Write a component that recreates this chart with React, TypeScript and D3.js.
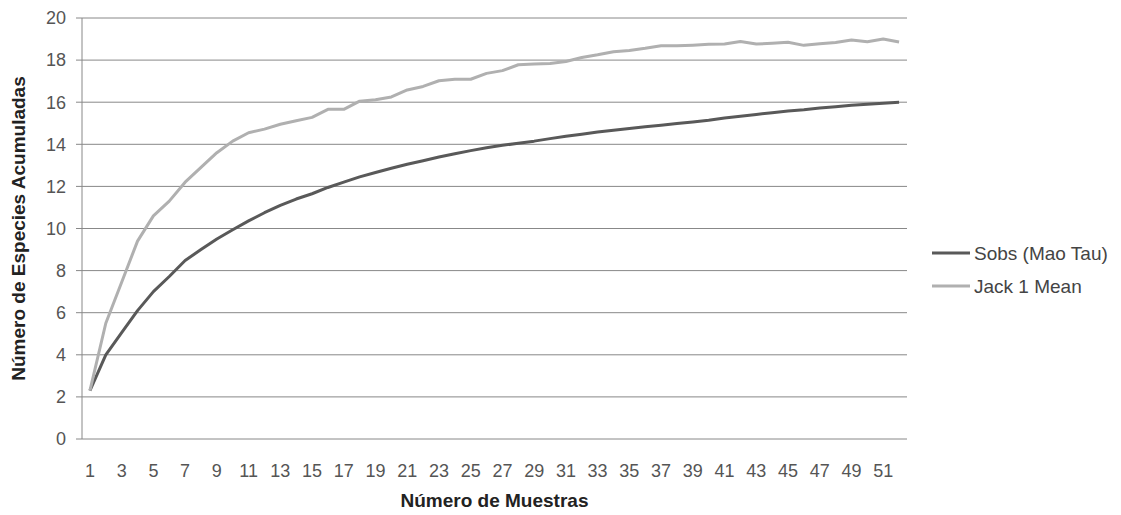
import React, { useEffect, useRef } from 'react';
import * as d3 from 'd3';

// Sample numbers 1..52
const samples = [
  1, 2, 3, 4, 5, 6, 7, 8, 9, 10, 11, 12, 13, 14, 15, 16, 17, 18, 19, 20, 21, 22, 23, 24, 25, 26,
  27, 28, 29, 30, 31, 32, 33, 34, 35, 36, 37, 38, 39, 40, 41, 42, 43, 44, 45, 46, 47, 48, 49, 50, 51, 52,
];

const sobs = [
  2.3, 4.0, 5.05, 6.1, 7.0, 7.72, 8.48, 9.0, 9.5, 9.94, 10.36, 10.75, 11.1, 11.4, 11.65, 11.95, 12.2,
  12.45, 12.66, 12.86, 13.05, 13.22, 13.4, 13.55, 13.7, 13.84, 13.95, 14.05, 14.15, 14.27, 14.38, 14.48,
  14.58, 14.67, 14.75, 14.83, 14.91, 14.99, 15.06, 15.14, 15.25, 15.33, 15.42, 15.5, 15.58, 15.64,
  15.72, 15.78, 15.85, 15.9, 15.95, 16.0,
];

const jack1 = [
  2.3, 5.5, 7.45, 9.4, 10.6, 11.3, 12.2, 12.9, 13.6, 14.15, 14.55, 14.72, 14.95, 15.12, 15.28, 15.66,
  15.66, 16.05, 16.12, 16.25, 16.58, 16.75, 17.02, 17.09, 17.09, 17.37, 17.5, 17.78, 17.82, 17.84,
  17.93, 18.12, 18.25, 18.4, 18.46, 18.56, 18.68, 18.68, 18.71, 18.75, 18.77, 18.88, 18.76, 18.8,
  18.85, 18.7, 18.78, 18.84, 18.95, 18.87, 19.0, 18.86,
];

const yTicks = [0, 2, 4, 6, 8, 10, 12, 14, 16, 18, 20];
const xTickLabels = samples.filter(d => d % 2 === 1);

const seriesNames = ['Sobs (Mao Tau)', 'Jack 1 Mean'];
const seriesColors = ['#595959', '#b0b0b0'];

export default function App() {
  const svgRef = useRef<SVGSVGElement>(null);
  const width = 1121;
  const height = 515;

  useEffect(() => {
    document.body.style.margin = '0';
    if (!svgRef.current) return;

    const plot = { left: 82, right: 907, top: 18, bottom: 439 };
    const font = "'Liberation Sans', Arial, sans-serif";

    const svg = d3.select(svgRef.current);
    svg.selectAll('*').remove();

    const x = d3.scalePoint<number>()
      .domain(samples)
      .range([plot.left, plot.right])
      .padding(0.5);

    const y = d3.scaleLinear()
      .domain([0, 20])
      .range([plot.bottom, plot.top]);

    // Gridlines (extend a little left as tick marks)
    svg.append('g')
      .selectAll('line')
      .data(yTicks)
      .join('line')
      .attr('x1', plot.left - 6)
      .attr('x2', plot.right)
      .attr('y1', d => y(d))
      .attr('y2', d => y(d))
      .attr('stroke', '#888')
      .attr('stroke-width', 1);

    // Y axis line
    svg.append('line')
      .attr('x1', plot.left)
      .attr('x2', plot.left)
      .attr('y1', plot.top)
      .attr('y2', plot.bottom)
      .attr('stroke', '#888');

    // Y tick labels
    svg.append('g')
      .selectAll('text')
      .data(yTicks)
      .join('text')
      .attr('x', plot.left - 16)
      .attr('y', d => y(d))
      .attr('dy', '0.35em')
      .attr('text-anchor', 'end')
      .attr('font-family', font)
      .attr('font-size', 18)
      .attr('fill', '#555')
      .text(d => d);

    // X tick labels (odd samples only)
    svg.append('g')
      .selectAll('text')
      .data(xTickLabels)
      .join('text')
      .attr('x', d => x(d)!)
      .attr('y', 477)
      .attr('text-anchor', 'middle')
      .attr('font-family', font)
      .attr('font-size', 18)
      .attr('fill', '#555')
      .text(d => d);

    // Lines
    const line = d3.line<number>()
      .x((_, i) => x(samples[i])!)
      .y(d => y(d));

    [sobs, jack1].forEach((vals, i) => {
      svg.append('path')
        .datum(vals)
        .attr('fill', 'none')
        .attr('stroke', seriesColors[i])
        .attr('stroke-width', 3)
        .attr('stroke-linejoin', 'round')
        .attr('d', line);
    });

    // Axis titles
    svg.append('text')
      .attr('x', (plot.left + plot.right) / 2)
      .attr('y', 507)
      .attr('text-anchor', 'middle')
      .attr('font-family', font)
      .attr('font-size', 19)
      .attr('font-weight', 'bold')
      .attr('fill', '#222')
      .text('Número de Muestras');

    svg.append('text')
      .attr('transform', `translate(25, ${(plot.top + plot.bottom) / 2}) rotate(-90)`)
      .attr('text-anchor', 'middle')
      .attr('font-family', font)
      .attr('font-size', 19)
      .attr('font-weight', 'bold')
      .attr('fill', '#222')
      .text('Número de Especies Acumuladas');

    // Legend
    const legend = svg.append('g');
    seriesNames.forEach((name, i) => {
      const ly = 253 + i * 33;
      legend.append('line')
        .attr('x1', 932)
        .attr('x2', 970)
        .attr('y1', ly)
        .attr('y2', ly)
        .attr('stroke', seriesColors[i])
        .attr('stroke-width', 3);
      legend.append('text')
        .attr('x', 974)
        .attr('y', ly)
        .attr('dy', '0.35em')
        .attr('font-family', font)
        .attr('font-size', 19)
        .attr('fill', '#444')
        .text(name);
    });
  }, []);

  return (
    <svg
      ref={svgRef}
      width={width}
      height={height}
      style={{ display: 'block', background: '#fff' }}
    />
  );
}
